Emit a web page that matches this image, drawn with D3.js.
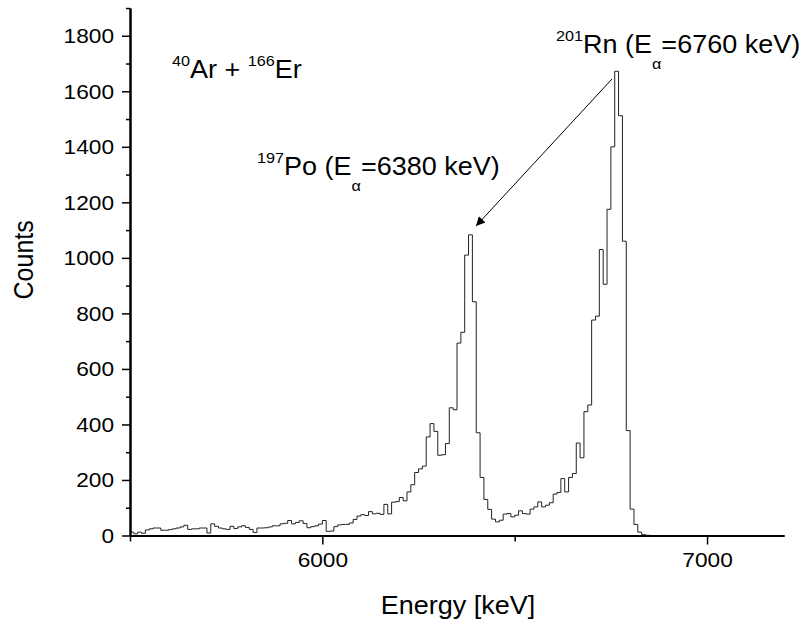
<!DOCTYPE html>
<html>
<head>
<meta charset="utf-8">
<script src="https://cdn.jsdelivr.net/npm/d3@7/dist/d3.min.js"></script>
<style>
  html, body { margin: 0; padding: 0; background: #fff; }
  svg { display: block; font-family: 'Liberation Sans', Arial, sans-serif; }
  .axis path, .axis line { stroke: #000; }
</style>
</head>
<body>
<script>
// histogram of alpha energies, 10 keV bins
const binStart = 5500;
const binWidth = 10;
const counts = [
  12, 6, 12, 8, 20, 24, 27, 27, 19, 19, 21, 24, 27, 31, 37, 22, 24, 24, 27, 27,
  9, 42, 33, 27, 24, 22, 33, 25, 31, 35, 29, 22, 11, 27, 27, 28, 31, 35, 35, 42,
  44, 54, 42, 47, 53, 43, 28, 32, 35, 41, 54, 15, 16, 32, 38, 40, 40, 45, 58, 70,
  75, 72, 86, 78, 80, 76, 112, 78, 120, 122, 137, 125, 157, 183, 227, 240, 250, 355, 403, 375,
  289, 291, 331, 460, 453, 693, 732, 1010, 1083, 842, 370, 209, 130, 94, 59, 49, 55, 77, 79, 67,
  73, 89, 79, 77, 95, 103, 121, 103, 109, 118, 149, 155, 205, 157, 209, 223, 333, 280, 446, 470,
  776, 790, 1030, 905, 1175, 1400, 1672, 1512, 1060, 378, 95, 40, 12, 3, 1, 0
];

const xMajorTicks = [6000, 7000];
const xMinorTicks = [5500, 6500];
const yMajorTicks = [0, 200, 400, 600, 800, 1000, 1200, 1400, 1600, 1800];
const yMinorTicks = [100, 300, 500, 700, 900, 1100, 1300, 1500, 1700, 1900];

const W = 810, H = 625;
const SX = 1.08; // the reference text is a bit wide

const svg = d3.select('body').append('svg')
  .attr('width', W)
  .attr('height', H);

const x = d3.scaleLinear().domain([5500, 7200]).range([130, 784]);
const y = d3.scaleLinear().domain([0, 1900]).range([535.5, 8]);

svg.append('clipPath').attr('id', 'plot')
  .append('rect')
  .attr('x', x(5500)).attr('y', 0)
  .attr('width', x(7200) - x(5500)).attr('height', y(0));

// histogram line
const pts = counts.map((c, i) => [binStart + i * binWidth, c]);
pts.push([binStart + counts.length * binWidth, counts[counts.length - 1]]);

const line = d3.line()
  .x(d => x(d[0]))
  .y(d => y(d[1]))
  .curve(d3.curveStepAfter);

svg.append('path')
  .attr('clip-path', 'url(#plot)')
  .attr('d', line(pts))
  .attr('fill', 'none')
  .attr('stroke', '#222')
  .attr('stroke-width', 1);

// axes
function styleAxis(g) {
  g.attr('class', 'axis');
  g.select('.domain').attr('stroke-width', 2);
  g.selectAll('.tick line').attr('stroke-width', 1.5);
  g.selectAll('.tick text')
    .attr('fill', '#000')
    .style('font-size', '21px');
}

const fmt = d3.format('d');

const gxMinor = svg.append('g')
  .attr('transform', `translate(0,${y(0)})`)
  .call(d3.axisBottom(x).tickValues(xMinorTicks).tickSize(6).tickSizeOuter(0).tickFormat(''));
styleAxis(gxMinor);

const gx = svg.append('g')
  .attr('transform', `translate(0,${y(0)})`)
  .call(d3.axisBottom(x).tickValues(xMajorTicks).tickSize(9).tickSizeOuter(0).tickPadding(7.5).tickFormat(fmt));
styleAxis(gx);
gx.selectAll('.tick text').attr('transform', `scale(${SX},1)`);

const gyMinor = svg.append('g')
  .attr('transform', `translate(${x(5500)},0)`)
  .call(d3.axisLeft(y).tickValues(yMinorTicks).tickSize(4).tickSizeOuter(0).tickFormat(''));
styleAxis(gyMinor);

const gy = svg.append('g')
  .attr('transform', `translate(${x(5500)},0)`)
  .call(d3.axisLeft(y).tickValues(yMajorTicks).tickSize(8).tickSizeOuter(0).tickPadding(7).tickFormat(fmt));
styleAxis(gy);
gy.selectAll('.tick text')
  .attr('x', -16 / SX)
  .attr('transform', `scale(${SX},1)`);

// axis titles
svg.append('g')
  .attr('transform', `translate(${(x(5500) + x(7200)) / 2 + 1},614) scale(${SX},1)`)
  .append('text')
  .attr('text-anchor', 'middle')
  .style('font-size', '25px')
  .text('Energy [keV]');

svg.append('g')
  .attr('transform', `translate(33,${y(1000) + 2}) scale(${SX},1) rotate(-90)`)
  .append('text')
  .attr('text-anchor', 'middle')
  .style('font-size', '25px')
  .text('Counts');

// annotations: each part is [text, kind]
function rich(px, py, parts) {
  const t = svg.append('g')
    .attr('transform', `translate(${px},${py}) scale(${SX},1)`)
    .append('text')
    .style('font-size', '25px');
  let shift = 0;
  parts.forEach(([s, kind]) => {
    const target = kind === 'sup' ? -12 : kind === 'sub' ? 16 : 0;
    t.append('tspan')
      .attr('dy', target - shift)
      .style('font-size', kind ? '15px' : '25px')
      .text(s);
    shift = target;
  });
}

rich(172, 78, [['40', 'sup'], ['Ar + ', null], ['166', 'sup'], ['Er', null]]);
rich(257, 175, [['197', 'sup'], ['Po (E', null], ['\u03b1', 'sub'], ['=6380 keV)', null]]);
rich(556, 53, [['201', 'sup'], ['Rn (E', null], ['\u03b1', 'sub'], ['=6760 keV)', null]]);

// arrow from the Rn label towards the Po peak
svg.append('defs').append('marker')
  .attr('id', 'head')
  .attr('viewBox', '0 0 10 10')
  .attr('refX', 10).attr('refY', 5)
  .attr('markerWidth', 13).attr('markerHeight', 9)
  .attr('markerUnits', 'userSpaceOnUse')
  .attr('orient', 'auto')
  .append('path')
  .attr('d', 'M0,0 L10,5 L0,10 Z')
  .attr('fill', '#000');

svg.append('line')
  .attr('x1', 612).attr('y1', 79)
  .attr('x2', 476).attr('y2', 226)
  .attr('stroke', '#000')
  .attr('stroke-width', 1)
  .attr('marker-end', 'url(#head)');
</script>
</body>
</html>
